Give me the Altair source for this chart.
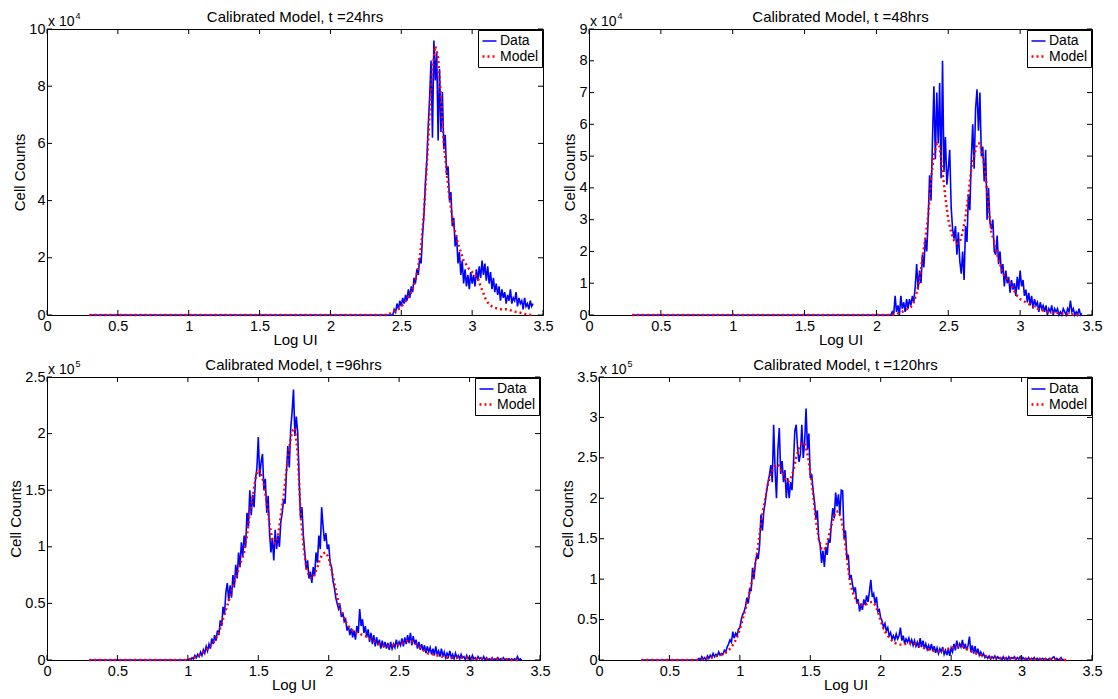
import altair as alt
import numpy as np
import pandas as pd

FONT = "Liberation Sans"
SERIES = ["Data", "Model"]
X_TICKS = [0, 0.5, 1, 1.5, 2, 2.5, 3, 3.5]
X_START = 0.3  # both curves start (at zero counts) from Log UI = 0.3

TITLES = [
    "Calibrated Model, t =24hrs",
    "Calibrated Model, t =48hrs",
    "Calibrated Model, t =96hrs",
    "Calibrated Model, t =120hrs",
]

# ---------------- t = 24 hrs (counts x 1e4) ----------------
p1_data_x0 = 2.44  # step 0.01
p1_data = [
    0, 0.2, 0.1, 0.4, 0.2, 0.5, 0.3, 0.6, 0.4, 0.7,
    0.5, 0.9, 0.6, 1.0, 0.8, 1.3, 1.1, 1.6, 1.4, 2.0,
    1.8, 2.8, 3.5, 4.6, 5.4, 6.6, 7.6, 8.9, 6.2, 9.6,
    8.2, 9.2, 6.1, 8.6, 6.4, 7.8, 5.8, 6.3, 4.9, 5.2,
    4.0, 4.3, 3.1, 3.4, 2.4, 2.8, 1.8, 2.2, 1.4, 1.9,
    1.1, 1.6, 1.0, 1.4, 0.9, 1.5, 1.1, 1.4, 1.0, 1.6,
    1.2, 1.7, 1.3, 1.9, 1.4, 1.8, 1.2, 1.7, 1.1, 1.5,
    0.9, 1.3, 0.8, 1.1, 0.7, 1.0, 0.5, 0.9, 0.6, 0.8,
    0.4, 0.7, 0.5, 0.9, 0.4, 0.6, 0.5, 0.8, 0.3, 0.6,
    0.4, 0.5, 0.2, 0.6, 0.3, 0.4, 0.2, 0.5, 0.3, 0.4,
]
p1_model_x0 = 2.40  # step 0.02
p1_model = [
    0, 0.05, 0.1, 0.15, 0.2, 0.3, 0.4, 0.55, 0.7, 0.9,
    1.2, 1.7, 2.4, 3.6, 5.2, 7.0, 8.6, 9.4, 9.0, 7.6,
    6.0, 5.0, 4.1, 3.4, 2.9, 2.5, 2.2, 1.9, 1.75, 1.6,
    1.5, 1.4, 1.3, 1.0, 0.75, 0.5, 0.38, 0.3, 0.25, 0.22,
    0.2, 0.2, 0.2, 0.18, 0.15, 0.12, 0.1, 0.08, 0.05, 0.03,
    0.01, 0,
]
p1_yticks = [0, 2, 4, 6, 8, 10]

# ---------------- t = 48 hrs (counts x 1e4) ----------------
p2_data_x0 = 2.10
p2_data = [
    0, 0.1, 0.0, 0.6, 0.1, 0.3, 0.0, 0.6, 0.2, 0.4,
    0.1, 0.5, 0.2, 0.5, 0.3, 0.6, 0.4, 0.9, 1.6, 0.8,
    1.4, 1.0, 1.9, 1.5, 2.4, 2.0, 3.0, 4.4, 3.6, 5.5,
    7.2, 4.9, 7.0, 5.4, 7.3, 4.3, 8.0, 4.5, 5.6, 4.1,
    4.6, 5.2, 3.4, 2.7, 2.4, 2.8, 1.9, 2.6, 1.7, 1.3,
    2.0, 1.1, 2.8, 2.3, 3.8, 3.3, 4.9, 6.0, 4.6, 6.5,
    7.1, 5.8, 7.0, 5.0, 5.3, 4.2, 5.2, 3.0, 4.0, 2.9,
    2.7, 3.0, 2.0, 1.9, 2.5, 1.6, 2.0, 1.3, 1.6, 0.9,
    1.4, 1.0, 1.2, 0.7, 1.1, 0.8, 1.0, 0.6, 1.2, 0.8,
    1.4, 0.9, 1.1, 0.6, 0.8, 0.4, 0.7, 0.3, 0.6, 0.2,
    0.5, 0.3, 0.4, 0.1, 0.4, 0.2, 0.3, 0.1, 0.3, 0.0,
    0.2, 0.1, 0.3, 0.0, 0.2, 0.1, 0.2, 0.0, 0.1, 0.0,
    0.2, 0.1, 0.0, 0.2, 0.1, 0.45, 0.1, 0.2, 0.0, 0.1,
    0.0, 0.2, 0.0, 0.05,
]
p2_model_x0 = 2.10
p2_model = [
    0, 0.02, 0.04, 0.06, 0.1, 0.15, 0.2, 0.25, 0.4, 0.7,
    1.1, 1.8, 2.4, 3.1, 4.3, 5.0, 5.4, 5.3, 4.5, 3.7,
    3.0, 2.6, 2.35, 2.25, 2.3, 2.6, 3.1, 3.8, 4.6, 5.0,
    5.4, 5.4, 5.0, 4.4, 3.4, 2.6, 2.3, 1.9, 1.6, 1.3,
    1.2, 1.1, 0.95, 0.75, 0.6, 0.5, 0.45, 0.4, 0.35, 0.3,
    0.25, 0.2, 0.17, 0.14, 0.12, 0.1, 0.08, 0.07, 0.06, 0.05,
    0.04, 0.03, 0.02, 0.02, 0.01, 0.01, 0,
]
p2_yticks = [0, 1, 2, 3, 4, 5, 6, 7, 8, 9]

# ---------------- t = 96 hrs (counts x 1e5) ----------------
p3_data_x0 = 1.00
p3_data = [
    0, 0.01, 0, 0.02, 0.01, 0.04, 0.02, 0.05, 0.03, 0.07,
    0.04, 0.09, 0.06, 0.12, 0.08, 0.14, 0.1, 0.19, 0.14, 0.22,
    0.17, 0.26, 0.22, 0.35, 0.3, 0.47, 0.4, 0.6, 0.68, 0.52,
    0.66, 0.55, 0.75, 0.64, 0.84, 0.72, 0.95, 0.82, 1.04, 0.92,
    1.1, 1.0, 1.3, 1.18, 1.5, 1.28, 1.46, 1.35, 1.6, 1.69,
    1.97, 1.62, 1.75, 1.82, 1.5, 1.6, 1.3, 1.45, 1.12, 0.95,
    1.08, 0.88, 1.15, 0.98, 1.1, 1.0, 1.22, 1.3, 1.42, 1.38,
    1.66, 1.89, 1.7, 2.04, 2.19, 2.39, 1.98, 2.15, 2.01, 1.6,
    1.25, 1.35, 1.1, 0.95, 0.8, 0.88, 0.72, 0.78, 0.68, 0.82,
    0.74, 0.95, 0.86, 1.1, 0.98, 1.35, 1.18, 1.05, 1.12, 0.98,
    1.02, 0.86, 0.82, 0.7, 0.64, 0.55, 0.5, 0.45, 0.48, 0.38,
    0.42, 0.34, 0.36, 0.26, 0.3, 0.22, 0.28, 0.2, 0.26, 0.18,
    0.3, 0.24, 0.45, 0.3, 0.36, 0.24, 0.3, 0.2, 0.27, 0.16,
    0.24, 0.14, 0.22, 0.12, 0.2, 0.13, 0.18, 0.1, 0.17, 0.11,
    0.16, 0.1, 0.15, 0.09, 0.16, 0.1, 0.14, 0.11, 0.18, 0.12,
    0.16, 0.13, 0.19, 0.12, 0.2, 0.14, 0.22, 0.15, 0.24, 0.13,
    0.21, 0.14, 0.18, 0.1, 0.16, 0.09, 0.14, 0.08, 0.13, 0.06,
    0.12, 0.07, 0.11, 0.05, 0.1, 0.04, 0.12, 0.05, 0.08, 0.03,
    0.1, 0.03, 0.07, 0.02, 0.06, 0.03, 0.08, 0.02, 0.05, 0.01,
    0.06, 0.02, 0.04, 0.01, 0.05, 0.02, 0.03, 0.0, 0.04, 0.01,
    0.03, 0.0, 0.04, 0.01, 0.02, 0.0, 0.03, 0.01, 0.02, 0.0,
    0.03, 0.0, 0.02, 0.0, 0.01, 0.0, 0.02, 0.0, 0.01, 0.0,
    0.02, 0.0, 0.01, 0.0, 0.02, 0.0, 0.01, 0.0, 0.01, 0.0,
    0.01, 0.0, 0.01, 0.0, 0.03, 0.0, 0.01, 0.0,
]
p3_model_x0 = 1.00
p3_model = [
    0, 0.01, 0.02, 0.03, 0.04, 0.06, 0.08, 0.1, 0.12, 0.15,
    0.19, 0.24, 0.32, 0.4, 0.48, 0.57, 0.65, 0.72, 0.8, 0.88,
    0.95, 1.1, 1.3, 1.44, 1.6, 1.68, 1.66, 1.55, 1.38, 1.2,
    1.06, 1.03, 1.1, 1.28, 1.45, 1.68, 1.88, 2.02, 2.05, 1.82,
    1.3, 1.02, 0.82, 0.74, 0.72, 0.76, 0.82, 0.9, 0.94, 0.95,
    0.9, 0.8, 0.68, 0.56, 0.46, 0.4, 0.34, 0.3, 0.27, 0.25,
    0.24, 0.23, 0.22, 0.21, 0.2, 0.18, 0.17, 0.15, 0.14, 0.13,
    0.12, 0.12, 0.12, 0.13, 0.13, 0.14, 0.15, 0.16, 0.17, 0.17,
    0.16, 0.14, 0.12, 0.1, 0.08, 0.06, 0.05, 0.05, 0.04, 0.04,
    0.03, 0.03, 0.02, 0.02, 0.02, 0.02, 0.02, 0.02, 0.02, 0.02,
    0.01, 0.01, 0.01, 0.01, 0.01, 0.01, 0.01, 0.01, 0.01, 0.01,
    0.01, 0.01, 0.01, 0.01, 0.0, 0.0, 0.0, 0.0, 0.0,
]
p3_yticks = [0, 0.5, 1, 1.5, 2, 2.5]

# ---------------- t = 120 hrs (counts x 1e5) ----------------
p4_data_x0 = 0.70
p4_data = [
    0.0, 0.02, 0.0, 0.04, 0.01, 0.03, 0.0, 0.05, 0.02, 0.06,
    0.03, 0.08, 0.04, 0.07, 0.05, 0.1, 0.06, 0.08, 0.07, 0.12,
    0.1, 0.16, 0.2, 0.25, 0.22, 0.35, 0.27, 0.33, 0.3, 0.38,
    0.4, 0.5, 0.56, 0.6, 0.66, 0.77, 0.7, 0.89, 0.85, 1.14,
    1.0, 1.2, 1.3, 1.25, 1.42, 1.8, 1.6, 1.84, 1.95, 2.09,
    2.2, 2.29, 2.41, 2.2, 2.91, 2.35, 2.0, 2.6, 2.87, 2.3,
    2.46, 2.2, 2.35, 2.0, 2.25, 2.0, 2.2, 2.1, 2.4, 2.83,
    2.91, 2.62, 2.45, 2.55, 2.91, 2.5, 2.7, 3.11, 2.6, 2.8,
    2.25, 2.3, 2.1, 1.95, 1.75, 1.85, 1.5, 1.42, 1.2, 1.35,
    1.15, 1.4, 1.3, 1.5, 1.45, 1.7, 1.88, 1.75, 2.07, 1.9,
    2.05, 1.8, 2.1, 2.09, 1.5, 1.6, 1.25, 1.3, 1.0, 1.05,
    0.93, 0.85, 0.9, 0.7, 0.75, 0.6, 0.7, 0.62, 0.75, 0.68,
    0.8, 0.72, 0.85, 0.99, 0.78, 0.82, 0.7, 0.78, 0.6, 0.62,
    0.52, 0.48, 0.4, 0.45, 0.36, 0.4, 0.3, 0.34, 0.26, 0.3,
    0.25, 0.32, 0.26, 0.3, 0.4, 0.24, 0.3, 0.2, 0.26, 0.22,
    0.27, 0.2, 0.25, 0.18, 0.24, 0.17, 0.22, 0.15, 0.27, 0.16,
    0.24, 0.14, 0.2, 0.13, 0.18, 0.12, 0.2, 0.11, 0.17, 0.09,
    0.15, 0.08, 0.14, 0.1, 0.16, 0.07, 0.12, 0.06, 0.14, 0.05,
    0.15, 0.1, 0.2, 0.12, 0.24, 0.14, 0.2, 0.16, 0.25, 0.14,
    0.2, 0.12, 0.18, 0.29, 0.1, 0.18, 0.08, 0.17, 0.07, 0.14,
    0.06, 0.1, 0.05, 0.08, 0.03, 0.05, 0.02, 0.05, 0.01, 0.04,
    0.02, 0.05, 0.01, 0.04, 0.02, 0.03, 0.0, 0.04, 0.01, 0.03,
    0.0, 0.04, 0.01, 0.03, 0.02, 0.04, 0.0, 0.03, 0.01, 0.04,
    0.0, 0.03, 0.01, 0.02, 0.0, 0.03, 0.0, 0.02, 0.01, 0.03,
    0.0, 0.02, 0.0, 0.02, 0.01, 0.02, 0.0, 0.02, 0.0, 0.01,
    0.02, 0.0, 0.03, 0.04, 0.0, 0.02, 0.0, 0.01, 0.03, 0.0,
    0.01,
]
p4_model_x0 = 0.70
p4_model = [
    0.0, 0.01, 0.01, 0.02, 0.02, 0.03, 0.04, 0.05, 0.06, 0.07,
    0.09, 0.12, 0.16, 0.21, 0.28, 0.38, 0.5, 0.63, 0.76, 0.92,
    1.1, 1.3, 1.55, 1.8, 2.0, 2.18, 2.3, 2.38, 2.42, 2.4,
    2.32, 2.25, 2.2, 2.24, 2.34, 2.5, 2.62, 2.68, 2.68, 2.55,
    2.33, 2.05, 1.72, 1.5, 1.38, 1.36, 1.45, 1.6, 1.73, 1.83,
    1.84, 1.75, 1.55, 1.26, 0.98, 0.84, 0.76, 0.7, 0.68, 0.68,
    0.69, 0.71, 0.72, 0.68, 0.6, 0.48, 0.39, 0.32, 0.28, 0.24,
    0.21, 0.2, 0.19, 0.19, 0.2, 0.21, 0.21, 0.2, 0.19, 0.17,
    0.15, 0.14, 0.13, 0.12, 0.11, 0.11, 0.11, 0.12, 0.13, 0.14,
    0.15, 0.16, 0.17, 0.17, 0.17, 0.15, 0.13, 0.11, 0.09, 0.08,
    0.07, 0.06, 0.05, 0.04, 0.03, 0.03, 0.03, 0.02, 0.02, 0.02,
    0.02, 0.02, 0.02, 0.02, 0.02, 0.02, 0.02, 0.01, 0.01, 0.01,
    0.01, 0.01, 0.01, 0.01, 0.01, 0.01, 0.01, 0.01, 0.01, 0.01,
    0.0, 0.0,
]
p4_yticks = [0, 0.5, 1, 1.5, 2, 2.5, 3, 3.5]


def series_frame(x0, step, vals, name):
    xs = np.round(x0 + step * np.arange(len(vals)), 3)
    return pd.DataFrame({
        "x": np.concatenate([[X_START], xs]),
        "y": [0.0] + list(vals),
        "series": name,
    })


def panel(idx, dx0, dvals, mx0, mvals, yticks, power, w, h):
    df = pd.concat([series_frame(dx0, 0.01, dvals, "Data"),
                    series_frame(mx0, 0.02, mvals, "Model")], ignore_index=True)
    xsc = alt.Scale(domain=[0, 3.5], nice=False, zero=False)
    ysc = alt.Scale(domain=[0, yticks[-1]], nice=False, zero=False)
    xax = alt.Axis(values=X_TICKS, format="~r", title="Log UI", ticks=False, tickSize=0,
                   domain=False, grid=False, labelFont=FONT, labelFontSize=14.5,
                   labelColor="black", labelPadding=4, labelFlush=False, labelOverlap=False,
                   titleFont=FONT, titleFontSize=15, titleFontWeight="normal",
                   titleColor="black", titlePadding=0)
    yax = alt.Axis(values=yticks, format="~r", title="Cell Counts", ticks=False, tickSize=0,
                   domain=False, grid=False, labelFont=FONT, labelFontSize=14.5,
                   labelColor="black", labelPadding=2, labelFlush=False, labelOverlap=False,
                   titleFont=FONT, titleFontSize=15, titleFontWeight="normal",
                   titleColor="black", titlePadding=1)
    leg = alt.Legend(title=None, orient="top-right", offset=1, strokeColor="black",
                     fillColor="white", padding=3, labelFont=FONT, labelFontSize=14,
                     labelColor="black", symbolType="stroke", symbolSize=196,
                     symbolStrokeWidth=1.6, rowPadding=0, labelOffset=2, cornerRadius=0)
    lines = alt.Chart(df).mark_line().encode(
        x=alt.X("x:Q", scale=xsc, axis=xax),
        y=alt.Y("y:Q", scale=ysc, axis=yax),
        color=alt.Color("series:N", scale=alt.Scale(domain=SERIES, range=["#0000ff", "#ff0000"]), legend=leg),
        strokeDash=alt.StrokeDash("series:N", scale=alt.Scale(domain=SERIES, range=[[1, 0], [2, 3]]), legend=leg),
        strokeWidth=alt.StrokeWidth("series:N", scale=alt.Scale(domain=SERIES, range=[1.6, 2.4]), legend=None),
    )
    xt = pd.DataFrame({"x": X_TICKS})
    yt = pd.DataFrame({"y": yticks})
    tb = alt.Chart(xt).mark_rule(color="black").encode(
        x=alt.X("x:Q", scale=xsc, axis=xax), y=alt.value(h), y2=alt.value(h - 5))
    tt = alt.Chart(xt).mark_rule(color="black").encode(
        x=alt.X("x:Q", scale=xsc, axis=xax), y=alt.value(0), y2=alt.value(5))
    tl = alt.Chart(yt).mark_rule(color="black").encode(
        y=alt.Y("y:Q", scale=ysc, axis=yax), x=alt.value(0), x2=alt.value(5))
    tr = alt.Chart(yt).mark_rule(color="black").encode(
        y=alt.Y("y:Q", scale=ysc, axis=yax), x=alt.value(w), x2=alt.value(w - 5))
    ex = pd.DataFrame({"base": ["x 10"], "power": [power]})
    e1 = alt.Chart(ex).mark_text(align="left", baseline="alphabetic", font=FONT,
                                 fontSize=14, color="black").encode(
        x=alt.value(1), y=alt.value(-3), text="base:N")
    e2 = alt.Chart(ex).mark_text(align="left", baseline="alphabetic", font=FONT,
                                 fontSize=9, color="black").encode(
        x=alt.value(28.5), y=alt.value(-10), text="power:N")
    return alt.layer(lines, tb, tt, tl, tr, e1, e2).properties(
        width=w, height=h,
        title=alt.TitleParams(TITLES[idx], font=FONT, fontSize=15, fontWeight="normal",
                              color="black", frame="group", anchor="middle", offset=-13),
    )


p1 = panel(0, p1_data_x0, p1_data, p1_model_x0, p1_model, p1_yticks, "4", 496, 286)
p2 = panel(1, p2_data_x0, p2_data, p2_model_x0, p2_model, p2_yticks, "4", 503, 286)
p3 = panel(2, p3_data_x0, p3_data, p3_model_x0, p3_model, p3_yticks, "5", 493, 283)
p4 = panel(3, p4_data_x0, p4_data, p4_model_x0, p4_model, p4_yticks, "5", 493, 283)

ind = dict(color="independent", strokeDash="independent", strokeWidth="independent")
row1 = alt.hconcat(p1, p2, spacing=8).resolve_scale(**ind).resolve_legend(color="independent", strokeDash="independent")
row2 = alt.hconcat(p3, p4, spacing=9).resolve_scale(**ind).resolve_legend(color="independent", strokeDash="independent")

chart = (
    alt.vconcat(row1, row2, spacing=9)
    .resolve_scale(**ind)
    .resolve_legend(color="independent", strokeDash="independent")
    .properties(padding={"left": 0, "top": 1, "right": 0, "bottom": 0}, background="white")
    .configure_view(stroke="black", strokeWidth=1)
)

chart.save("out.html", embed_options={"renderer": "svg", "actions": False})
